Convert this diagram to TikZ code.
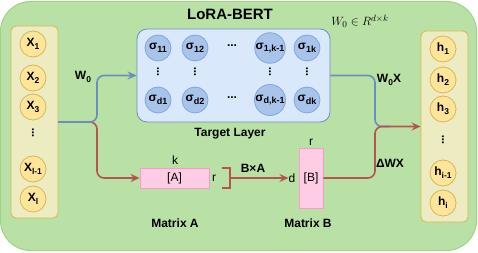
\documentclass[tikz,border=0pt]{standalone}
\usepackage{fontspec}
\setmainfont{Liberation Sans}
\usetikzlibrary{arrows.meta}
\definecolor{bgfill}{HTML}{B9E0A5}
\definecolor{bgdraw}{HTML}{A3D18A}
\definecolor{colfill}{HTML}{ECEBC2}
\definecolor{coldraw}{HTML}{D6B656}
\definecolor{cfill}{HTML}{FFE599}
\definecolor{tlfill}{HTML}{DAE8FC}
\definecolor{tldraw}{HTML}{6C8EBF}
\definecolor{sfill}{HTML}{A9C4EB}
\definecolor{sdraw}{HTML}{7EA6E0}
\definecolor{pfill}{HTML}{FFCCE6}
\definecolor{pdraw}{HTML}{FF99CC}
\definecolor{lblue}{HTML}{6C8EBF}
\definecolor{lred}{HTML}{B85450}
\newcommand{\sbs}[1]{\raisebox{-0.45ex}{\fontsize{8.5}{8.5}\selectfont #1}}
\newcommand{\ssb}[1]{\raisebox{-0.45ex}{\fontsize{9}{9}\selectfont #1}}
\begin{document}
\begin{tikzpicture}[x=1pt,y=-1pt,
  bgbox/.style={fill=bgfill,draw=bgdraw,line width=1pt,rounded corners=30pt},
  colbox/.style={fill=colfill,draw=coldraw,line width=0.8pt,rounded corners=5pt,minimum width=47pt,inner sep=0pt},
  xcirc/.style={circle,fill=cfill,draw=coldraw,line width=0.8pt,minimum size=26pt,inner sep=0pt,font=\fontsize{12}{12}\selectfont\bfseries},
  scirc/.style={circle,fill=sfill,draw=sdraw,line width=0.8pt,minimum size=26pt,inner sep=0pt,font=\fontsize{12}{12}\selectfont\bfseries},
  tlbox/.style={fill=tlfill,draw=tldraw,line width=0.8pt,rounded corners=10pt,minimum width=193pt,minimum height=93pt,inner sep=0pt},
  matbox/.style={fill=pfill,draw=pdraw,line width=0.8pt,inner sep=0pt,font=\fontsize{12}{12}\selectfont},
  lbl/.style={inner sep=0pt,font=\fontsize{12}{12}\selectfont\bfseries},
  plain/.style={inner sep=0pt,font=\fontsize{12}{12}\selectfont},
  dotsv/.style={inner sep=0pt,font=\fontsize{12}{12}\selectfont\bfseries},
  bline/.style={draw=lblue,line width=1.6pt,rounded corners=7pt},
  rline/.style={draw=lred,line width=1.6pt,rounded corners=7pt},
  tip/.style={-{Stealth[length=9pt,width=8pt,inset=3pt]}}
]
\useasboundingbox (0,0) rectangle (478,253);
\path[bgbox] (0.5,1.5) rectangle (476.5,250.5);

% columns
\node[colbox,minimum height=192pt] (lcol) at (34.5,122) {};
\node[colbox,minimum height=191pt] (rcol) at (444.5,126.5) {};

% x circles
\node[xcirc] (x1) at (33,44) {X\sbs{1}};
\node[xcirc] (x2) at (33,78) {X\sbs{2}};
\node[xcirc] (x3) at (33,107) {X\sbs{3}};
\node[dotsv] (xd) at (33,133) {\rotatebox{90}{...}};
\node[xcirc] (xl1) at (33,169) {X\sbs{l-1}};
\node[xcirc] (xl) at (33,199) {X\sbs{l}};

% h circles
\node[xcirc] (h1) at (443,49) {h\sbs{1}};
\node[xcirc] (h2) at (443,80) {h\sbs{2}};
\node[xcirc] (h3) at (443,109) {h\sbs{3}};
\node[dotsv] (hd) at (443,140) {\rotatebox{90}{...}};
\node[xcirc] (hi1) at (443,173) {h\sbs{i-1}};
\node[xcirc] (hi) at (443,203) {h\sbs{i}};

% target layer
\node[tlbox] (tl) at (233.5,75.5) {};
\node[scirc] (s11) at (158,48) {σ\ssb{11}};
\node[scirc] (s12) at (195,48) {σ\ssb{12}};
\node[dotsv] (sd1) at (232,46) {...};
\node[scirc] (s1k1) at (270,48) {σ\ssb{1,k-1}};
\node[scirc] (s1k) at (307,48) {σ\ssb{1k}};
\node[dotsv] (v1) at (158,72) {\rotatebox{90}{...}};
\node[dotsv] (v2) at (195,72) {\rotatebox{90}{...}};
\node[dotsv] (v3) at (270,72) {\rotatebox{90}{...}};
\node[dotsv] (v4) at (307,72) {\rotatebox{90}{...}};
\node[scirc] (sd1c) at (158,100) {σ\ssb{d1}};
\node[scirc] (sd2c) at (195,100) {σ\ssb{d2}};
\node[dotsv] (sd2) at (232,98) {...};
\node[scirc] (sdk1) at (270,100) {σ\ssb{d,k-1}};
\node[scirc] (sdk) at (307,100) {σ\ssb{dk}};

% titles
\node[inner sep=0pt,font=\fontsize{15}{15}\selectfont\bfseries] (title) at (230,14) {LoRA-BERT};
\node[inner sep=0pt,font=\fontsize{12.5}{12.5}\selectfont] (wdim) at (360,21) {$W_0\in R^{d\times k}$};
\node[lbl] (tlab) at (230,134) {Target Layer};

% matrices
\node[matbox,minimum width=69pt,minimum height=20pt] (matA) at (174.5,178) {[A]};
\node[matbox,minimum width=24pt,minimum height=60pt] (matB) at (311,178) {[B]};
\node[plain] (klab) at (175,160) {k};
\node[plain] (rlabA) at (214,178) {r};
\node[plain] (rlabB) at (311,142) {r};
\node[plain] (dlab) at (292,178) {d};
\node[lbl] (malab) at (175,223) {Matrix A};
\node[lbl] (mblab) at (308,223) {Matrix B};
\node[lbl] (bxa) at (253,168) {B×A};

% bracket
\coordinate (brk) at (230,178);
\draw[draw=lred,line width=1.6pt] (222,168) -- (230,168) -- (230,188) -- (222,188);
\draw[draw=lred,line width=1.6pt,tip] (brk) -- (dlab.west);

% left connectors
\draw[rline,tip] (lcol.east) -- (97,122) -- (97,178) -- (matA.west);
\draw[bline,tip] (lcol.east) -- (97,122) -- (97,75.5) -- (tl.west);
\node[lbl] (w0) at (83,77) {W\sbs{0}};

% right connectors
\draw[bline] (tl.east) -- (375,75.5) -- (375,126.5) -- (390,126.5);
\draw[rline,tip] (matB.east) -- (375,178) -- (375,126.5) -- (rcol.west);
\node[lbl] (w0x) at (389,80) {W\sbs{0}X};
\node[lbl] (dwx) at (390,163) {ΔWX};
\end{tikzpicture}
\end{document}
